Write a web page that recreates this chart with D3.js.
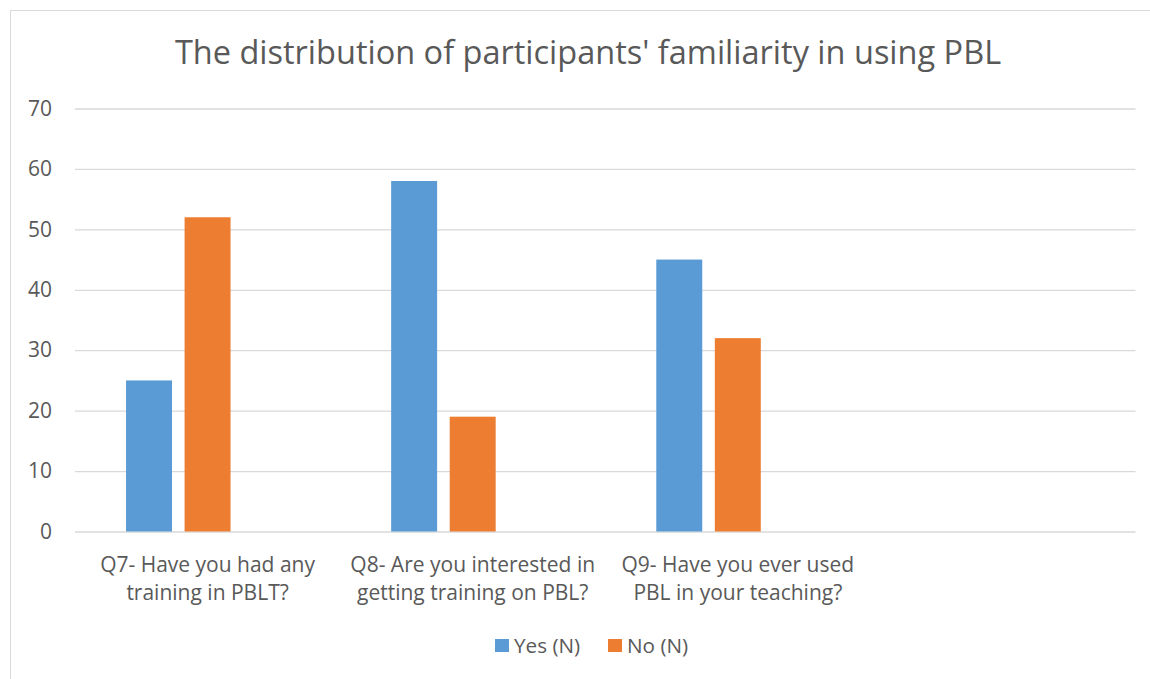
<!DOCTYPE html>
<html>
<head>
<meta charset="utf-8">
<script src="https://cdn.jsdelivr.net/npm/d3@7"></script>
<style>
  html, body { margin: 0; padding: 0; background: #fff; }
  svg { display: block; font-family: "Open Sans", sans-serif; }
</style>
</head>
<body>
<svg id="chart" width="1150" height="679"></svg>
<script>
// ---- data ----
const chartTitle = "The distribution of participants' familiarity in using PBL";
const categories = [
  "Q7- Have you had any\ntraining in PBLT?",
  "Q8- Are you interested in\ngetting training on PBL?",
  "Q9- Have you ever used\nPBL in your teaching?",
  ""
];
const seriesNames = ["Yes (N)", "No (N)", ""];
const yesValues = [25, 58, 45, null];
const noValues = [52, 19, 32, null];
const emptyValues = [null, null, null, null];
const yTicks = [0, 10, 20, 30, 40, 50, 60, 70];

const seriesValues = [yesValues, noValues, emptyValues];
const colors = ["#5B9BD5", "#ED7D31", "none"];

// ---- layout ----
const svg = d3.select("#chart");
const plot = { left: 75, right: 1135.5, top: 108.5, bottom: 531.5 };
const textColor = "#595959";
const gridColor = "#D9D9D9";
const fontFam = "'Open Sans', sans-serif";

// chart border
svg.append("rect")
  .attr("x", 10.5).attr("y", 10.5)
  .attr("width", 1160).attr("height", 700)
  .attr("fill", "#fff").attr("stroke", "#D9D9D9").attr("stroke-width", 1);

const x0 = d3.scaleBand().domain(categories).range([plot.left, plot.right]).padding(0);
const x1 = d3.scaleBand().domain(seriesNames.map((s, i) => i))
  .range([x0.bandwidth() * 0.1925, x0.bandwidth() * 0.8075])
  .paddingInner(0.215).paddingOuter(0);
const y = d3.scaleLinear().domain([0, 70]).range([plot.bottom, plot.top]);

// title
svg.append("text")
  .attr("x", 588).attr("y", 64)
  .attr("text-anchor", "middle")
  .attr("fill", textColor)
  .style("font-size", "32.5px")
  .text(chartTitle);

// gridlines + y axis
const yAxis = d3.axisLeft(y).tickValues(yTicks)
  .tickSize(-(plot.right - plot.left)).tickPadding(23).tickFormat(d3.format("d"));
const gy = svg.append("g").attr("transform", `translate(${plot.left},0)`).call(yAxis);
gy.select(".domain").remove();
gy.selectAll(".tick line").attr("stroke", gridColor).attr("stroke-width", 1.3);
gy.selectAll(".tick text").attr("fill", textColor).style("font-size", "21px")
  .style("font-family", fontFam);

// bars
const groups = svg.append("g").selectAll("g")
  .data(categories)
  .join("g")
  .attr("transform", d => `translate(${x0(d)},0)`);

groups.selectAll("rect")
  .data((d, ci) => seriesValues.map((vals, si) => ({ si, v: vals[ci] })).filter(o => o.v != null))
  .join("rect")
  .attr("x", d => x1(d.si))
  .attr("width", x1.bandwidth())
  .attr("y", d => y(d.v))
  .attr("height", d => y(0) - y(d.v))
  .attr("fill", d => colors[d.si]);

// x axis labels
const xAxis = d3.axisBottom(x0).tickSize(0).tickPadding(0).tickFormat("");
const gx = svg.append("g").attr("transform", `translate(0,${plot.bottom})`).call(xAxis);
gx.select(".domain").remove();
gx.selectAll(".tick").each(function(d) {
  const t = d3.select(this).append("text")
    .attr("text-anchor", "middle")
    .attr("fill", textColor)
    .style("font-size", "21px")
    .style("font-family", fontFam);
  d.split("\n").forEach((line, i) => {
    t.append("tspan").attr("x", 0).attr("y", 40.5 + i * 28).text(line);
  });
});

// legend
const legendItems = [
  { name: seriesNames[0], color: colors[0], x: 495 },
  { name: seriesNames[1], color: colors[1], x: 608 }
];
const lg = svg.append("g").selectAll("g").data(legendItems).join("g")
  .attr("transform", d => `translate(${d.x},639)`);
lg.append("rect").attr("width", 14).attr("height", 13).attr("fill", d => d.color);
lg.append("text").attr("x", 19).attr("y", 13.5)
  .attr("fill", textColor).style("font-size", "20.7px")
  .text(d => d.name);
</script>
</body>
</html>
